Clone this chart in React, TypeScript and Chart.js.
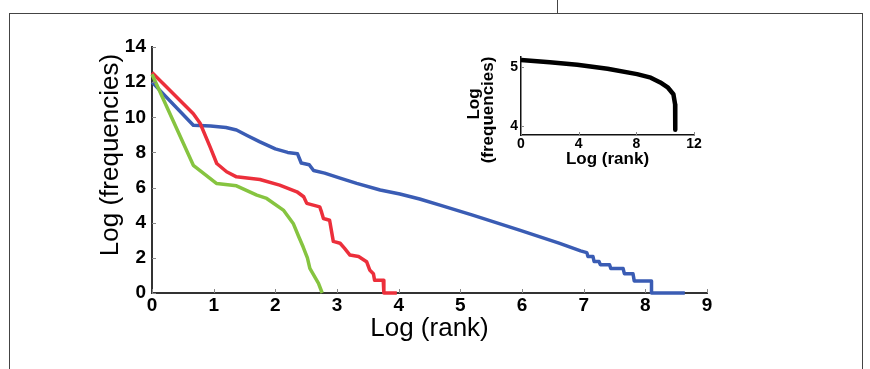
import React, { useEffect, useRef } from "react";
import { Chart, registerables } from "chart.js";
Chart.register(...registerables);

const FONT = '"Liberation Sans", Arial, Helvetica, sans-serif';

// Main chart data (Log rank vs Log frequency)
const blueX = [0, 0.67, 0.95, 1.2, 1.37, 1.55, 1.75, 2.0, 2.2, 2.36, 2.42, 2.55, 2.62, 2.8, 3.05, 3.32, 3.7, 4.02, 4.34, 4.67, 5.2, 5.96, 6.6, 6.95, 7.05, 7.07, 7.15, 7.17, 7.25, 7.27, 7.42, 7.44, 7.64, 7.66, 7.8, 7.82, 8.1, 8.1, 8.64];
const blueY = [12.0, 9.55, 9.5, 9.42, 9.28, 8.95, 8.6, 8.2, 8.0, 7.92, 7.4, 7.3, 6.97, 6.82, 6.54, 6.24, 5.86, 5.63, 5.35, 5.0, 4.43, 3.58, 2.84, 2.4, 2.3, 2.08, 2.08, 1.79, 1.79, 1.61, 1.61, 1.39, 1.39, 1.1, 1.1, 0.69, 0.69, 0, 0];

const redX = [0, 0.67, 0.78, 0.94, 1.05, 1.21, 1.37, 1.75, 2.07, 2.35, 2.46, 2.51, 2.72, 2.75, 2.78, 2.88, 2.94, 3.05, 3.12, 3.21, 3.35, 3.48, 3.53, 3.59, 3.61, 3.75, 3.76, 3.97];
const redY = [12.55, 10.2, 9.66, 8.33, 7.37, 6.9, 6.61, 6.46, 6.14, 5.76, 5.48, 5.1, 4.9, 4.6, 4.24, 4.14, 2.94, 2.83, 2.55, 2.16, 2.08, 1.78, 1.31, 1.1, 0.72, 0.72, 0, 0];

const greenX = [0, 0.67, 1.05, 1.37, 1.7, 1.86, 2.13, 2.29, 2.38, 2.45, 2.52, 2.56, 2.7, 2.76];
const greenY = [12.45, 7.27, 6.23, 6.1, 5.57, 5.38, 4.72, 3.96, 3.2, 2.63, 2.0, 1.4, 0.55, 0];

const mainXTicks = [0, 1, 2, 3, 4, 5, 6, 7, 8, 9];
const mainYTicks = [0, 2, 4, 6, 8, 10, 12, 14];

// Inset data
const insetX = [0, 2, 3.9, 6, 8.05, 9, 9.66, 10.2, 10.57, 10.69, 10.7];
const insetY = [5.12, 5.08, 5.04, 4.97, 4.88, 4.82, 4.74, 4.65, 4.54, 4.37, 3.94];
const insetXTicks = [0, 4, 8, 12];
const insetYTicks = [4, 5];

const toPts = (xs: number[], ys: number[]) => xs.map((x, i) => ({ x, y: ys[i] }));

const innerTicks = (len: number, color: string) => ({
  id: "innerTicks",
  afterDraw(chart: any) {
    const { ctx, chartArea, scales } = chart;
    const x = scales.x;
    const y = scales.y;
    ctx.save();
    ctx.strokeStyle = color;
    ctx.lineWidth = 1;
    x.ticks.forEach((t: any) => {
      const px = Math.round(x.getPixelForValue(t.value)) + 0.5;
      ctx.beginPath();
      ctx.moveTo(px, chartArea.bottom);
      ctx.lineTo(px, chartArea.bottom - len);
      ctx.stroke();
    });
    y.ticks.forEach((t: any) => {
      const py = Math.round(y.getPixelForValue(t.value)) + 0.5;
      ctx.beginPath();
      ctx.moveTo(chartArea.left, py);
      ctx.lineTo(chartArea.left + len, py);
      ctx.stroke();
    });
    ctx.restore();
  },
});

const rotatedTitle = (lines: { text: string; x: number; y: number }[], font: string) => ({
  id: "rotatedTitle",
  afterDraw(chart: any) {
    const ctx = chart.ctx;
    ctx.save();
    ctx.fillStyle = "#000";
    ctx.font = font;
    ctx.textAlign = "center";
    ctx.textBaseline = "middle";
    lines.forEach((l) => {
      ctx.save();
      ctx.translate(l.x, l.y);
      ctx.rotate(-Math.PI / 2);
      ctx.fillText(l.text, 0, 0);
      ctx.restore();
    });
    ctx.restore();
  },
});

export default function App() {
  const mainRef = useRef<HTMLCanvasElement>(null);
  const insetRef = useRef<HTMLCanvasElement>(null);

  useEffect(() => {
    Chart.defaults.font.family = FONT;
    const mk = (xs: number[], ys: number[], color: string, w: number) => ({
      data: toPts(xs, ys),
      borderColor: color,
      backgroundColor: color,
      borderWidth: w,
      pointRadius: 0,
      tension: 0,
      showLine: true,
      clip: false as any,
      borderJoinStyle: "round" as const,
    });

    const main = new Chart(mainRef.current!, {
      type: "scatter",
      data: {
        datasets: [
          mk(greenX, greenY, "#86c440", 3.5),
          mk(redX, redY, "#ec2f3b", 3.5),
          mk(blueX, blueY, "#3a5cb4", 3.5),
        ],
      },
      options: {
        animation: false,
        responsive: false,
        maintainAspectRatio: false,
        layout: { padding: { left: 92, right: 163, top: 47, bottom: 16 } },
        plugins: { legend: { display: false }, tooltip: { enabled: false } },
        scales: {
          x: {
            type: "linear",
            min: 0,
            max: 9,
            afterBuildTicks: (s: any) => {
              s.ticks = mainXTicks.map((v) => ({ value: v }));
            },
            afterFit: (s: any) => {
              s.height = 60;
            },
            grid: { display: false, drawTicks: false },
            border: { display: true, color: "#333", width: 2 },
            ticks: {
              font: { family: FONT, size: 19, weight: "bold" },
              color: "#000",
              padding: 1,
              maxRotation: 0,
              autoSkip: false,
            },
            title: {
              display: true,
              text: "Log (rank)",
              font: { family: FONT, size: 26 },
              color: "#000",
              padding: { top: 0, bottom: 9 },
            },
          },
          y: {
            type: "linear",
            min: 0,
            max: 14,
            afterBuildTicks: (s: any) => {
              s.ticks = mainYTicks.map((v) => ({ value: v }));
            },
            afterFit: (s: any) => {
              s.width = 60;
            },
            grid: { display: false, drawTicks: false },
            border: { display: true, color: "#333", width: 2 },
            ticks: {
              font: { family: FONT, size: 19, weight: "bold" },
              color: "#000",
              padding: 6,
              autoSkip: false,
            },
          },
        },
      },
      plugins: [
        innerTicks(4, "#888"),
        rotatedTitle([{ text: "Log (frequencies)", x: 111, y: 155 }], `26px ${FONT}`),
      ],
    });

    const inset = new Chart(insetRef.current!, {
      type: "scatter",
      data: { datasets: [mk(insetX, insetY, "#000", 4.5)] },
      options: {
        animation: false,
        responsive: false,
        maintainAspectRatio: false,
        layout: { padding: { left: 0, right: 21, top: 11, bottom: 0 } },
        plugins: { legend: { display: false }, tooltip: { enabled: false } },
        scales: {
          x: {
            type: "linear",
            min: 0,
            max: 12,
            afterBuildTicks: (s: any) => {
              s.ticks = insetXTicks.map((v) => ({ value: v }));
            },
            afterFit: (s: any) => {
              s.height = 40;
            },
            grid: { display: false, drawTicks: false },
            border: { display: true, color: "#111", width: 1.5 },
            ticks: {
              font: { family: FONT, size: 14, weight: "bold" },
              color: "#000",
              padding: 1,
              maxRotation: 0,
              autoSkip: false,
            },
            title: {
              display: true,
              text: "Log (rank)",
              font: { family: FONT, size: 17, weight: "bold" },
              color: "#000",
              padding: { top: 0, bottom: 5 },
            },
          },
          y: {
            type: "linear",
            min: 3.85,
            max: 5.18,
            afterBuildTicks: (s: any) => {
              s.ticks = insetYTicks.map((v) => ({ value: v }));
            },
            afterFit: (s: any) => {
              s.width = 66;
            },
            grid: { display: false, drawTicks: false },
            border: { display: true, color: "#111", width: 1.5 },
            ticks: {
              font: { family: FONT, size: 14, weight: "bold" },
              color: "#000",
              padding: 3,
              autoSkip: false,
            },
          },
        },
      },
      plugins: [
        innerTicks(3, "#888"),
        rotatedTitle(
          [
            { text: "Log", x: 19, y: 59 },
            { text: "(frequencies)", x: 33, y: 65 },
          ],
          `bold 17px ${FONT}`
        ),
      ],
    });

    return () => {
      main.destroy();
      inset.destroy();
    };
  }, []);

  return (
    <div style={{ position: "absolute", left: 0, top: 0, width: 870, height: 369, overflow: "hidden", background: "#fff" }}>
      <div style={{ position: "absolute", left: 9, top: 13, width: 852, height: 400, borderLeft: "1px solid #444", borderTop: "1px solid #444", borderRight: "1px solid #444" }} />
      <div style={{ position: "absolute", left: 557, top: 0, width: 0, height: 13, borderLeft: "1px solid #444" }} />
      <canvas ref={mainRef} width={870} height={369} style={{ position: "absolute", left: 0, top: 0, display: "block" }} />
      <canvas ref={insetRef} width={260} height={130} style={{ position: "absolute", left: 455, top: 45, display: "block" }} />
    </div>
  );
}
